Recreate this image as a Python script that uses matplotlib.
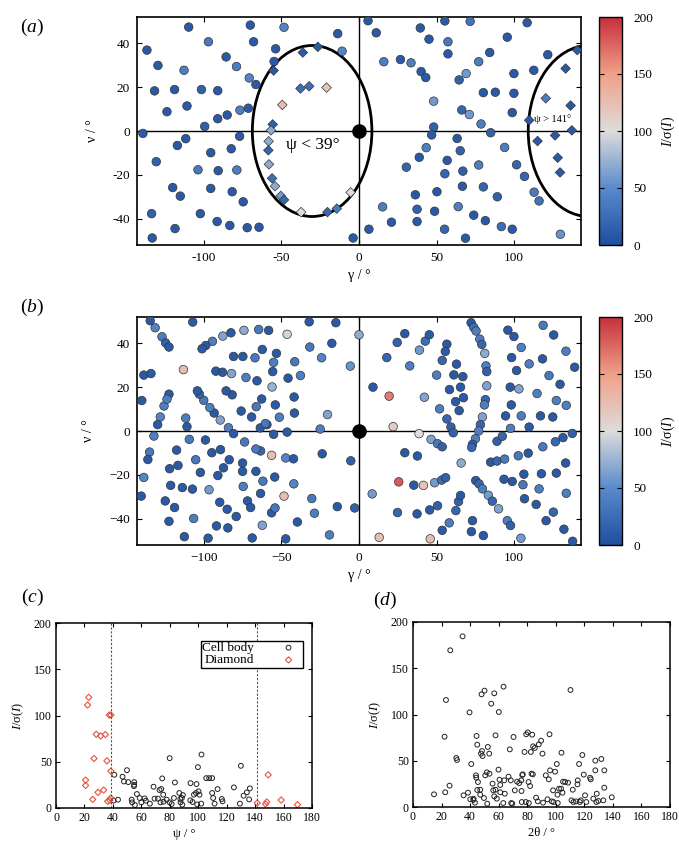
import numpy as np
import matplotlib
matplotlib.use('Agg')
import matplotlib.pyplot as plt
from matplotlib.patches import Ellipse
from matplotlib.colors import LinearSegmentedColormap

plt.rcParams['font.family'] = ['Liberation Serif', 'DejaVu Serif']
plt.rcParams['mathtext.fontset'] = 'custom'
plt.rcParams['mathtext.rm'] = 'Liberation Serif'
plt.rcParams['mathtext.it'] = 'Liberation Serif:italic'
plt.rcParams['font.size'] = 9

# ---- panel (a): cell body reflections (gamma, nu, I/sigma)
a_cell = [(-136.6,36.9,10),(-129.5,29.9,10),(-109.7,47.4,10),(-131.7,18.3,10),(-118.8,18.9,10),
          (-123.7,8.8,10),(-110.8,11.4,10),(-112.7,27.7,40),(-97,40.7,35),(-101.5,18.9,15),
          (-91,18.4,10),(-99.4,2.1,15),(-91,5.6,10),(-84.9,7.3,10),(-85.6,33.8,10),(-78.9,29.4,40),
          (-70,48.3,10),(-67.9,40.7,10),(-70.7,24.2,45),(-66.4,21.2,10),(-76.7,9.5,40),(-71.3,10.4,10),
          (-54.7,31.7,10),(-53.7,37.5,10),(-48.3,47.3,45),(-139.2,-1.1,10),(-111.6,-3.5,10),
          (-117,-6.6,10),(-130.6,-14,15),(-76.9,-2.4,10),(-82.3,-8.1,10),(-95.5,-9.9,10),
          (-103.7,-17.7,35),(-90.7,-18.1,10),(-78.7,-17.8,40),(-120,-25.8,10),(-115.1,-29.7,10),
          (-95.5,-26.2,10),(-81.7,-27.7,10),(-74.6,-32.3,10),(-133.6,-37.7,15),(-102.2,-37.7,10),
          (-91.4,-41.3,10),(-83.2,-43.1,10),(-72,-44.1,10),(-64.4,-43.9,10),(-118.5,-44.5,10),
          (-133.2,-48.8,10),(-13.7,44.4,10),(-10.9,36.4,45),(5.8,50.3,10),(11.1,44.8,10),(39.5,47,10),
          (55.3,50.2,10),(71.6,50,30),(108.3,49.4,10),(45.1,41.9,10),(57.3,40.7,35),(57.3,35.2,10),
          (95.5,42.8,10),(16,31.6,40),(26.7,32.6,10),(33.5,31.1,40),(40,27.1,10),(43,24.4,10),
          (64.5,23.3,15),(69,26.2,60),(77.1,31.6,40),(84.2,35.8,10),(99.8,26.2,10),(112.6,27.7,10),
          (121.6,34.8,10),(80.1,17.5,10),(87.8,17.7,10),(99.8,17.2,10),(48.1,13.6,60),(66.2,9.6,20),
          (71.1,7.5,60),(78.6,3.2,40),(98.7,8.4,10),(48.1,1.8,15),(46.8,-1.8,10),(84.8,-0.8,15),
          (63.2,-3.4,10),(43.3,-7.6,40),(65.2,-9,15),(38.8,-12,10),(56.8,-13.4,10),(77.1,-15.5,40),
          (30.5,-16.5,20),(55.3,-19.5,20),(66.9,-18.3,15),(93.8,-7.5,40),(101.5,-15.4,20),
          (106.6,-20.7,20),(66.6,-25.2,10),(80.1,-25.5,20),(89.1,-30,15),(112.8,-27.9,35),
          (116,-31.9,30),(50.2,-27.7,10),(36.3,-29.1,10),(15.2,-34.6,40),(37.4,-35.7,15),
          (48.7,-36.6,10),(63.9,-34.5,40),(73.9,-38.4,10),(81.4,-40.9,10),(91.7,-43.6,25),
          (98.7,-44.8,10),(20.9,-41.6,10),(37.4,-41.3,10),(55.1,-44.8,20),(6.4,-44.8,10),
          (-3.8,-48.8,10),(68.6,-48.9,10),(129.7,-47.1,55)]

# diamond reflections
a_dia = [(-36.2,35.8,10),(-26.5,38.4,10),(-55,27.6,10),(-37.7,19.4,25),(-32.1,20.4,25),
         (-20.9,19.8,120),(-49.4,11.9,125),(-55.6,3.0,15),(-56.7,0.3,70),(-58.2,-4.7,70),
         (-58.4,-8.8,20),(-58,-15.2,70),(-56,-21.6,25),(-54.1,-25.2,70),(-50.4,-29.6,60),
         (-48.3,-31.4,20),(-37.3,-37,100),(-20.3,-37,20),(-14.3,-35.4,35),(-5.4,-28,100),
         (140.6,36.9,10),(133.1,28.5,10),(120.3,14.9,40),(136.3,11.6,10),(109.6,4.9,10),
         (137.1,0.3,10),(126.3,-2,10),(115,-4.6,10),(128,-12.2,10),(129.5,-18.9,10)]

# ---- panel (b): all reflections
b_pts = [(-134.5,50.3,10),(-131.3,47.1,45),(-126.9,43,40),(-124.6,40.2,15),(-122.4,38.3,10),
         (-107.1,49.7,10),(-138.6,25.5,10),(-134,26.2,10),(-113.1,28,125),(-139.9,13.9,10),
         (-125.6,11.4,40),(-122.4,16.8,10),(-123.7,14.5,40),(-128,6.4,45),(-129.7,2.9,10),
         (-132.1,-2.3,40),(-111.6,5.9,40),(-110.8,2,10),(-109.3,-3.8,35),(-134.9,-9.6,35),
         (-136,-13,10),(-138.6,-21.2,45),(-140.3,-29.7,10),(-117.5,-8.7,10),(-122,-17.2,10),
         (-116.6,-15.7,10),(-121.3,-24.8,10),(-113.8,-25.8,10),(-107.3,-26.5,10),(-124.8,-31.9,10),
         (-118.8,-34.9,10),(-122.4,-41.2,10),(-106.5,-39.9,40),(-112.5,-48.2,10),(-97.2,-48.9,10),
         (-105.2,-13.1,35),(-102.2,-18.9,10),(-98.9,-4.1,10),(-94.8,-9.9,10),(-89.2,-8.5,10),
         (-96.6,-26.8,60),(-90.9,-20.3,10),(-87.3,-16.8,10),(-83.6,-13.1,10),(-89.7,-32.5,10),
         (-84.9,-35.7,10),(-91.8,-43.3,10),(-84.5,-44.2,10),(-79.1,-39,10),(-74.6,-25.3,40),
         (-75,-18.4,10),(-75,-14.6,10),(-73.7,-5,35),(-71.8,-31.9,10),(-69.8,-34.9,10),
         (-66.4,-18.4,10),(-63.4,-9.1,20),(-66.4,-8.2,35),(-61.9,-22.9,35),(-63.4,-28.5,10),
         (-68.8,-48.8,10),(-62.3,-43,65),(-56.3,-37.3,10),(-54.1,-35.1,35),(-56.3,-11.1,125),
         (-54.3,-21,10),(-48.3,-29.7,125),(-47.2,-12.3,45),(-42.2,-12.7,10),(-42,-24.1,45),
         (-39.7,-41.5,10),(-47.2,-49.2,10),(-55,-1.5,10),(-46.3,-0.5,10),(-59.3,2.9,10),
         (-63.6,1.4,10),(-60.3,3.4,35),(-51.3,6.3,40),(-41.6,8.2,10),(-41.8,15.5,10),
         (-53.9,11.9,10),(-56,20.1,75),(-62.7,14.6,10),(-66.2,11.1,35),(-69.2,6.4,10),
         (-75.9,9.1,10),(-81.7,16.5,10),(-85.6,18.3,10),(-89.4,5,65),(-93.3,8.2,10),
         (-96.1,10.7,40),(-100,14,35),(-102.8,16.8,20),(-104.1,18.3,10),(-84.1,1.5,40),
         (-80.8,-1.2,10),(-92.2,27.3,10),(-87.9,26.8,10),(-82.1,26.2,65),(-72.8,24.4,40),
         (-65.7,22.9,10),(-55.6,27.1,10),(-55,31.3,40),(-53.2,35.4,10),(-62.3,37.2,10),
         (-67,33.4,35),(-74.8,34,10),(-80.8,34,10),(-82.5,44.8,10),(-87.7,43.3,65),
         (-94.4,40.9,40),(-98.7,39,10),(-101.1,37.5,10),(-74.1,45.9,70),(-64.6,46.3,35),
         (-58.2,45.9,10),(-46.3,44.1,95),(-41.4,31.6,35),(-45.7,24.1,10),(-37.7,25.3,40),
         (-32.1,49.8,10),(-31.7,38.3,35),(-24.1,33.4,45),(-17.5,40,10),(-14.9,49.4,10),
         (-20.3,7.5,65),(-25,0.9,40),(-23.7,-10.4,10),(-30.4,-30.8,35),(-28.7,-37.5,40),
         (-19,-47.4,40),(-14,-34.5,10),(0,43.9,70),(-5.6,29.6,55),(-5.3,-13.6,15),(-2.8,-35.1,15),
         (9,20,10),(19.4,15.9,165),(22,2,115),(17.9,33.5,20),(24.6,40.4,15),(29.5,44.4,10),
         (32.7,29.7,40),(38.9,36.9,60),(42.7,41,25),(45.3,43.9,10),(42.1,15.4,65),(38.7,-1.2,100),
         (46.4,-3.8,65),(50.6,-5.8,35),(53.6,-7.2,15),(56.6,39.6,10),(55.6,36.3,10),(53.6,32.2,20),
         (50,25.5,40),(62.8,30.5,10),(61.1,25.6,10),(66.9,24.8,10),(58.3,18.9,10),(65.4,20,10),
         (62.2,13.4,10),(67.3,15.2,10),(64.5,9.3,10),(51.9,10.1,40),(56.6,5.5,20),(59.2,1.8,15),
         (60.7,-0.8,15),(72.2,49.4,10),(73.9,47.3,25),(75.4,45.6,40),(77.8,41.9,40),(79.1,39.5,20),
         (81,35.4,70),(81.8,29.7,40),(82.3,27.1,15),(82.3,20.6,65),(81.4,14.3,20),(80.8,11.9,40),
         (79.5,6.4,65),(78.2,2.9,20),(77.1,0,40),(75,-3.5,40),(73.1,-6.1,15),(72.6,-7.5,20),
         (29.5,-9.9,10),(37.6,-11.4,10),(65.8,-14.6,70),(25.6,-23.2,180),(35.3,-24.7,10),
         (41.5,-24.8,120),(48.7,-23.6,60),(53.2,-22.4,25),(55.8,-21.3,15),(8.5,-28.7,60),
         (24.8,-37.2,20),(37.4,-37.8,10),(45.5,-36,10),(50.6,-34.1,15),(62.4,-36.3,20),
         (64.1,-32.2,15),(65.4,-29.4,10),(58.1,-41.9,40),(53.6,-45.3,10),(45.9,-49.2,125),
         (13,-48.5,125),(73.1,-40.9,10),(72.4,-45.9,10),(80.1,-47.7,10),(75.2,-22.6,10),
         (77.3,-24.1,20),(79.5,-26.4,40),(83.3,-29.3,60),(85.9,-32,20),(89.9,-35.5,65),
         (95.5,-40.9,40),(97.6,-43.1,15),(104.3,-48.9,60),(84.8,-14.2,10),(88.9,-13.7,20),
         (93.8,-12.8,35),(102.6,-11.3,35),(109,-10.1,10),(88.9,-4.7,15),(92.3,-2.4,20),
         (97.6,1.2,40),(109.6,1.8,10),(94.4,6.9,10),(104.5,6.9,40),(116.9,6.9,10),(124.8,6.4,10),
         (98.1,11.9,10),(114.7,17.1,40),(127.1,13.9,40),(133.5,11.7,40),(97.4,20,10),(103,19.2,65),
         (122.4,25.3,35),(129.5,21.3,10),(101.5,27.6,10),(109.6,30.6,40),(118.2,32.9,10),
         (98.3,33.5,10),(104.5,38.1,40),(99.8,43.1,10),(95.9,46,10),(118.6,48.2,35),
         (125.4,43.8,10),(133.3,36.4,40),(138.9,29.1,10),(137.4,-1.1,15),(131.4,-3,10),
         (126.5,-4.9,20),(118.4,-7.2,35),(133.1,-14.6,10),(127.1,-19.2,10),(117.5,-19.5,10),
         (106.2,-19.7,10),(98.7,-23,10),(93.4,-22,10),(105.6,-24.5,35),(116,-26.4,40),
         (133.5,-28.4,40),(106.6,-30.9,10),(114.1,-33.5,10),(125.2,-37,20),(120.5,-40.9,10),
         (132,-44.8,10),(137.6,-50.3,10)]

# ---- panel (c): I/sigma vs psi
psi_cell = [41,43.6,40.5,46.8,49.9,47.8,50.8,55,55,54.8,53.2,53.5,55.5,56.9,58.8,60,62.3,63.2,66,
            68.6,69.3,71.7,72.8,74,74.7,75.4,75.6,73.5,77.8,79.9,79.9,81.3,82.9,83.6,86.7,87.4,
            87.6,88.8,89.2,88.5,94.6,94.4,96,97,98.4,98.8,99.8,100.2,100.9,99.3,102.3,102.1,105.6,
            107.7,109.8,109.8,110.5,111.5,113.6,116.6,117.1,125.1,129.3,130,131.9,134.2,136.3,135.8]
I_cell = [35.9,9,8,33.8,40.9,28.7,28,28,25.1,23.7,9,6.1,3.2,15.1,10.8,6.1,10.4,7.9,4.7,
          23,10.1,10.1,19.4,20.5,32,14.4,6.8,6.1,9,53.9,6.1,4.3,10.8,27.6,16.2,9.7,
          6.1,3.6,14,10.8,26.9,8.3,6.5,14.4,16.2,25.9,44.2,18,14.4,3.9,57.8,4.7,32.3,
          32.3,32.3,16.2,10.8,4.7,20.5,9.7,7.2,22.3,4.7,45.6,13.3,16.9,21.2,9.3]
psi_dia = [23,22.2,20.8,20.8,25.8,26.7,28.3,31.4,34.7,29.5,33.5,35.8,37.5,38.6,38.6,36.3,37.9,38.6,
           141.5,147.3,148.2,149.2,158.3,169.8]
I_dia = [119.6,111.3,30.2,24.4,9.3,53.5,79.7,77.9,79.4,16.9,19.4,51,100.5,100.5,39.9,7.2,8.3,10.8,
         5.4,4.3,6.5,35.9,8.6,3.6]

# ---- panel (d): I/sigma vs 2theta
tth = [34.7,26.1,23.1,22.1,22.6,25.6,14.7,30.3,30.8,39.6,40.8,38.5,35.4,40.1,42.2,43.4,42.4,44.5,45,
       44.1,44.3,45.5,45,47.1,47.1,48,50.1,47.6,48.3,48.7,49.7,50.6,51.7,52.4,53.4,52,53.6,54.8,
       55.7,56.9,57.8,60.1,59.9,60.6,61.1,61.1,63.4,63.9,64.3,63.2,56.2,57.8,58.7,56.9,66.9,67.8,
       68.5,68.8,69.5,70.4,71.3,72.9,74.4,75.8,76,76.5,76.9,76.2,78.1,79.3,80.4,80.9,81.1,79,82,
       82.5,83,83.9,83.5,84.1,85.3,86.2,87.4,88.1,89.7,90.7,91.1,93,94.2,95.1,95.6,96,97.2,98.1,
       98.4,99.5,100.7,101.2,101.4,102.3,103.7,104,104.7,105.1,106.5,108.6,110.3,111,111.9,112.4,
       114.2,115.2,115.4,116.3,116.8,117.5,118.6,119.6,120.5,121.4,124,124.5,126.3,127.7,127.7,
       128.7,128.4,129.8,131.9,134,134,133.3,139.2]
I_d = [184.5,169.4,115.7,76,15.9,23.1,13.7,53,50.8,102.3,46.5,15.5,12.6,8.3,7.6,4.7,9,76.8,67.4,
       34.2,31.7,27,18.4,18.7,13.3,121.8,125.8,57.7,60.5,55.1,9.7,34.2,37.5,64.9,57.7,3.6,36,111.7,
       25.2,122.9,77.5,102.7,40.4,29.5,23.8,15.9,130.1,28.8,14.4,4.3,18,18.7,9,11.5,32.8,62.3,
       28.8,4.3,3.6,75.7,18,27.4,25.9,28.8,17.3,34.6,35.3,5.4,59.5,78.6,80.7,27,4.3,5.4,22.7,
       59.5,36,35.3,78.2,65.6,63.8,10.1,6.1,67.7,71.7,57.7,4.7,34.2,8.3,29.9,78.6,39.6,6.1,18,
       5.4,38.2,46.5,13.3,4.3,19.8,19.8,58.7,15.5,27.4,27,26.3,126.5,7.2,18.7,5.4,
       6.1,24.5,28.8,46.5,5.4,7.2,56.2,35,12.6,5.4,31.7,29.9,9,50.1,39.6,
       14.4,5.4,6.5,51.9,39.6,20.9,7.2,10.5]

cmap = LinearSegmentedColormap.from_list('isig', [
    (0.0, '#1f4f9e'), (0.25, '#5a8acb'), (0.5, '#dddcdb'),
    (0.75, '#f0a088'), (1.0, '#c5303a')])

fig = plt.figure(figsize=(6.79, 8.41), dpi=100)
W, H = 679., 841.

def box(x0, y0, x1, y1):
    return [x0 / W, 1 - y1 / H, (x1 - x0) / W, (y1 - y0) / H]

def map_axes(ax, minus):
    ax.set_xlim(-143, 143)
    ax.set_ylim(-52, 52)
    ax.axhline(0, color='k', lw=1.0, zorder=1)
    ax.axvline(0, color='k', lw=1.0, zorder=1)
    ax.set_xticks([-100, -50, 0, 50, 100])
    ax.set_xticklabels([t.replace('-', minus) for t in ['-100', '-50', '0', '50', '100']])
    ax.set_yticks([-40, -20, 0, 20, 40])
    ax.set_yticklabels([t.replace('-', minus) for t in ['-40', '-20', '0', '20', '40']])
    ax.tick_params(direction='in', top=True, right=True, length=3.5, labelsize=9.5, pad=5)
    for s in ax.spines.values():
        s.set_linewidth(1.2)
    ax.set_xlabel('γ / °', fontsize=10, labelpad=4)
    ax.set_ylabel('ν / °', fontsize=10, labelpad=10)

def add_cbar(sc, y0, y1):
    cax = fig.add_axes(box(599, y0, 622, y1))
    cb = plt.colorbar(sc, cax=cax)
    cb.set_ticks([0, 50, 100, 150, 200])
    cax.tick_params(direction='in', left=True, right=True, length=3.5, labelsize=9.5, pad=8)
    cb.outline.set_linewidth(1.0)
    cb.set_label('$I$/σ($I$)', fontsize=10, labelpad=5)

# (a)
ax = fig.add_axes(box(137, 17, 581, 245))
map_axes(ax, '-')
ax.add_patch(Ellipse((-30.2, 0), 77, 78, fill=False, lw=2.0, color='k', zorder=2))
ax.add_patch(Ellipse((148, 0), 78, 78, fill=False, lw=2.0, color='k', zorder=2))
g, n, v = zip(*a_cell)
sc = ax.scatter(g, n, c=v, cmap=cmap, vmin=0, vmax=200, s=38, marker='o',
                edgecolors='#333333', linewidths=0.5, zorder=3)
g, n, v = zip(*a_dia)
ax.scatter(g, n, c=v, cmap=cmap, vmin=0, vmax=200, s=24, marker='D',
           edgecolors='#333333', linewidths=0.5, zorder=3)
ax.scatter([0], [0], s=90, color='k', zorder=4)
ax.text(-47, -6.5, 'ψ < 39°', fontsize=12.5, ha='left', va='center', zorder=5)
ax.text(113, 5.6, 'ψ > 141°', fontsize=7.5, ha='left', va='center', zorder=5)
add_cbar(sc, 17, 245)
fig.text(32 / W, 1 - 27 / H, '($a$)', fontsize=14, ha='center', va='center')

# (b)
ax = fig.add_axes(box(137, 317, 581, 545))
map_axes(ax, '\u2212')
g, n, v = zip(*b_pts)
sc = ax.scatter(g, n, c=v, cmap=cmap, vmin=0, vmax=200, s=38, marker='o',
                edgecolors='#333333', linewidths=0.5, zorder=3)
ax.scatter([0], [0], s=90, color='k', zorder=4)
add_cbar(sc, 317, 545)
fig.text(32 / W, 1 - 307 / H, '($b$)', fontsize=14, ha='center', va='center')

def small_axes(ax, xlabel):
    ax.set_xlim(0, 180)
    ax.set_ylim(0, 200)
    ax.set_xticks(np.arange(0, 181, 20))
    ax.set_yticks([0, 50, 100, 150, 200])
    ax.tick_params(direction='in', top=True, right=True, length=3, labelsize=8.5, pad=3)
    for s in ax.spines.values():
        s.set_linewidth(1.1)
    ax.set_xlabel(xlabel, fontsize=9, labelpad=3)
    ax.set_ylabel('$I$/σ($I$)', fontsize=9, labelpad=6)

# (c)
ax = fig.add_axes(box(56, 623, 312, 808))
small_axes(ax, 'ψ / °')
ax.axvline(39, color='#555555', lw=0.8, ls=(0, (2, 1.5)))
ax.axvline(141, color='#555555', lw=0.8, ls=(0, (2, 1.5)))
ax.scatter(psi_cell, I_cell, s=12, facecolors='none', edgecolors='#222222', linewidths=0.7,
           label='Cell body')
ax.scatter(psi_dia, I_dia, s=10, marker='D', facecolors='none', edgecolors='#e8533f',
           linewidths=0.8, label='Diamond')
leg = ax.legend(loc='upper right', bbox_to_anchor=(0.965, 0.905), markerfirst=False,
                fancybox=False, edgecolor='k', framealpha=1, fontsize=9.5,
                borderpad=0.1, labelspacing=0.0, handletextpad=1.6, borderaxespad=0)
leg.get_frame().set_linewidth(1.0)
fig.text(32 / W, 1 - 597 / H, '($c$)', fontsize=14, ha='center', va='center')

# (d)
ax = fig.add_axes(box(413, 622, 670, 807))
small_axes(ax, '2θ / °')
ax.scatter(tth, I_d, s=12, facecolors='none', edgecolors='#222222', linewidths=0.7)
fig.text(385 / W, 1 - 600 / H, '($d$)', fontsize=14, ha='center', va='center')

fig.savefig('out.png', dpi=100)
